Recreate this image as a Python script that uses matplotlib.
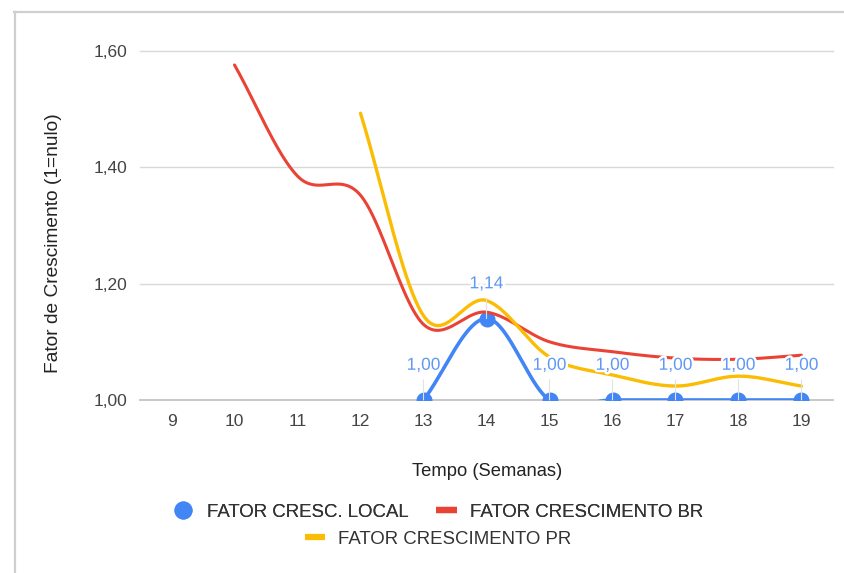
import numpy as np
import matplotlib
matplotlib.use("Agg")
import matplotlib.pyplot as plt
from matplotlib.lines import Line2D
import matplotlib.patheffects as pe

plt.rcParams['font.family'] = ['Liberation Sans', 'DejaVu Sans']

# ---- data ----
weeks = [9, 10, 11, 12, 13, 14, 15, 16, 17, 18, 19]
local_weeks = [13, 14, 15, 16, 17, 18, 19]
local_vals = [1.00, 1.14, 1.00, 1.00, 1.00, 1.00, 1.00]
br_weeks = [10, 11, 12, 13, 14, 15, 16, 17, 18, 19]
br_vals = [1.576, 1.385, 1.352, 1.130, 1.151, 1.100, 1.083, 1.072, 1.070, 1.077]
pr_weeks = [12, 13, 14, 15, 16, 17, 18, 19]
pr_vals = [1.493, 1.145, 1.171, 1.074, 1.043, 1.024, 1.041, 1.024]
yticks = [1.00, 1.20, 1.40, 1.60]
ytick_labels = ['1,00', '1,20', '1,40', '1,60']
local_labels = ['1,00', '1,14', '1,00', '1,00', '1,00', '1,00', '1,00']

BLUE = '#4285F4'
RED = '#EA4335'
YELLOW = '#FBBC04'


def smooth(x, y, n=40):
    """Cubic Hermite (Catmull-Rom) curve through the data points."""
    x = np.asarray(x, float)
    y = np.asarray(y, float)
    m = np.zeros_like(y)
    m[1:-1] = (y[2:] - y[:-2]) / (x[2:] - x[:-2])
    m[0] = (y[1] - y[0]) / (x[1] - x[0])
    m[-1] = (y[-1] - y[-2]) / (x[-1] - x[-2])
    xs, ys = [], []
    for i in range(len(x) - 1):
        h = x[i + 1] - x[i]
        t = np.linspace(0, 1, n, endpoint=(i == len(x) - 2))
        h00 = 2 * t**3 - 3 * t**2 + 1
        h10 = t**3 - 2 * t**2 + t
        h01 = -2 * t**3 + 3 * t**2
        h11 = t**3 - t**2
        xs.append(x[i] + t * h)
        ys.append(h00 * y[i] + h10 * h * m[i] + h01 * y[i + 1] + h11 * h * m[i + 1])
    return np.concatenate(xs), np.concatenate(ys)


fig = plt.figure(figsize=(8.45, 5.73), dpi=100)
ax = fig.add_axes([140 / 845, 1 - 400 / 573, 693 / 845, 349 / 573])

# outer frame (top and left edges)
fig.add_artist(Line2D([14 / 845, 1], [1 - 12 / 573] * 2, transform=fig.transFigure,
                      color='#cfcfcf', lw=1.6))
fig.add_artist(Line2D([15 / 845] * 2, [0, 1 - 12 / 573], transform=fig.transFigure,
                      color='#cfcfcf', lw=1.6))

ax.set_xlim(8.5, 19.5)
ax.set_ylim(1.0, 1.6)
for s in ax.spines.values():
    s.set_visible(False)

for yv in yticks[1:]:
    ax.axhline(yv, color='#d9d9d9', lw=1.0, zorder=0, clip_on=False)
ax.axhline(1.0, color='#c8c8c8', lw=1.4, zorder=0.5, clip_on=False)

ax.set_yticks(yticks)
ax.set_yticklabels(ytick_labels)
ax.set_xticks(weeks)
ax.set_xticklabels([str(w) for w in weeks])
ax.tick_params(axis='y', length=0, pad=9, labelsize=12.5, labelcolor='#444444')
ax.tick_params(axis='x', length=0, pad=10, labelsize=12.5, labelcolor='#444444')

# series
lx, ly = smooth(local_weeks, local_vals)
ax.plot(lx, ly, color=BLUE, lw=2.6, zorder=3, solid_capstyle='round')
ax.plot(local_weeks, local_vals, 'o', color=BLUE, ms=10.5, zorder=3)
bx, by = smooth(br_weeks, br_vals)
ax.plot(bx, by, color=RED, lw=2.2, zorder=4, solid_capstyle='round')
px, py = smooth(pr_weeks, pr_vals)
ax.plot(px, py, color=YELLOW, lw=2.4, zorder=5, solid_capstyle='round')

# data labels
for xv, yv, lab in zip(local_weeks, local_vals, local_labels):
    ax.annotate(lab, xy=(xv, yv), xytext=(0, 25), textcoords='offset points',
                ha='center', va='center', fontsize=12.5, color='#5f97f5',
                zorder=7,
                path_effects=[pe.withStroke(linewidth=3.5, foreground='white')],
                arrowprops=dict(arrowstyle='-', color='#e2e2e2', lw=0.8,
                                shrinkA=3, shrinkB=0))

# axis titles
fig.text(487 / 845, 1 - 471 / 573, 'Tempo (Semanas)', ha='center', va='center',
         fontsize=13.2, color='#222222')
fig.text(54 / 845, 1 - 243 / 573, 'Fator de Crescimento (1=nulo)', ha='center',
         va='center', rotation=90, fontsize=13.8, color='#222222')

# legend
h_local = Line2D([], [], color=BLUE, marker='o', ls='none', ms=12)
h_br = Line2D([], [], color=RED, lw=4.5, solid_capstyle='butt')
h_pr = Line2D([], [], color=YELLOW, lw=4.5, solid_capstyle='butt')
common = dict(frameon=False, fontsize=13.4, handlelength=1.1, handletextpad=0.7,
              columnspacing=1.5, borderpad=0, borderaxespad=0, labelcolor='#333333')
leg1 = fig.legend([h_local, h_br], ['FATOR CRESC. LOCAL', 'FATOR CRESCIMENTO BR'],
                  ncol=2, loc='center', bbox_to_anchor=(438 / 845, 1 - 512 / 573),
                  **common)
leg2 = fig.legend([h_pr], ['FATOR CRESCIMENTO PR'], ncol=1, loc='center',
                  bbox_to_anchor=(438 / 845, 1 - 539 / 573), **common)
fig.add_artist(leg1)

fig.savefig('out.png', dpi=100, facecolor='white')
